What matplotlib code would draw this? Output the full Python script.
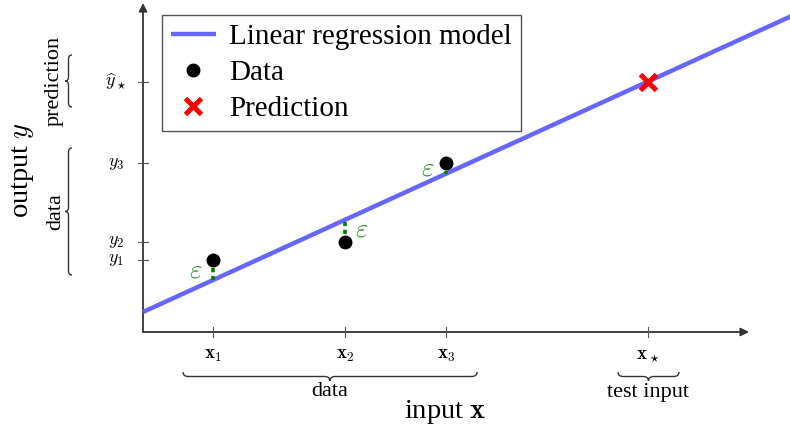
import matplotlib
matplotlib.use("Agg")
import matplotlib.pyplot as plt
import numpy as np
from matplotlib.path import Path
from matplotlib.patches import PathPatch, FancyArrowPatch

plt.rcParams['font.family'] = ['Liberation Serif', 'DejaVu Serif']
plt.rcParams['mathtext.fontset'] = 'cm'

# ---- data ----
x_data = [0.70, 2.02, 3.03]
y_data = [0.72, 0.90, 1.69]
x_star = 5.05
intercept = 0.20
slope = 0.4564
y_star = intercept + slope * x_star
x_tick_pos = [0.70, 2.02, 3.03, 5.05]
x_tick_labels = [r'$\mathbf{x}_1$', r'$\mathbf{x}_2$', r'$\mathbf{x}_3$', r'$\mathbf{x}_\star$']
y_tick_pos = [0.72, 0.90, 1.69, y_star]
y_tick_labels = [r'$y_1$', r'$y_2$', r'$y_3$', r'$\widehat{y}_\star$']

fig = plt.figure(figsize=(7.9, 4.33), dpi=100)
ax = fig.add_axes([0, 0, 1, 1])
ax.set_xlim(-1.43, 6.47)
ax.set_ylim(-1.01, 3.32)
ax.axis('off')

axc = '#333333'
# axes with arrows
ax.add_patch(FancyArrowPatch((0, 0), (6.06, 0), arrowstyle='-|>', mutation_scale=12,
                             color=axc, lw=1.3, shrinkA=0, shrinkB=0))
ax.add_patch(FancyArrowPatch((0, 0), (0, 3.29), arrowstyle='-|>', mutation_scale=12,
                             color=axc, lw=1.3, shrinkA=0, shrinkB=0))

# ticks
for xp, lab in zip(x_tick_pos, x_tick_labels):
    ax.plot([xp, xp], [-0.05, 0.05], color='#555555', lw=0.8)
    ax.text(xp, -0.23, lab, ha='center', va='center', fontsize=13.5)
for yp, lab in zip(y_tick_pos, y_tick_labels):
    ax.plot([-0.05, 0.05], [yp, yp], color='#555555', lw=0.8)
    ax.text(-0.27, yp, lab, ha='center', va='center', fontsize=13)

# regression line
xl = [0, 6.6]
ax.plot(xl, [intercept + slope * v for v in xl], color='#6666ff', lw=3.2,
        solid_capstyle='butt', label='Linear regression model', zorder=3)

# residuals
eps_offsets = [(-0.17, -0.01), (0.17, 0.0), (-0.18, -0.01)]
for xv, yv, (dx, dy) in zip(x_data, y_data, eps_offsets):
    yl = intercept + slope * xv
    ax.plot([xv, xv], [yv, yl], color='#008000', lw=2.6, ls=(0, (1.2, 1.0)), zorder=4)
    ax.text(xv + dx, (yv + yl) / 2 + dy, r'$\varepsilon$', color='#2e8b2e',
            fontsize=19, ha='center', va='center')

ax.plot(x_data, y_data, 'o', color='black', ms=9, label='Data', zorder=5)
ax.plot([x_star], [y_star], 'x', color='red', ms=11, mew=3.6, label='Prediction', zorder=6)


def brace(x0, y0, x1, y1, amp, lw=1.0):
    p0 = np.array([x0, y0], float)
    p1 = np.array([x1, y1], float)
    d = p1 - p0
    L = np.hypot(*d)
    u = d / L
    n = np.array([-u[1], u[0]]) * amp
    m = (p0 + p1) / 2
    h = n / 2
    k = abs(amp) * 0.6
    verts = [p0,
             p0 + h, p0 + h + u * k,
             m - u * k + h,
             m + h, m + n,
             m + h, m + u * k + h,
             p1 - u * k + h,
             p1 + h, p1]
    codes = [Path.MOVETO,
             Path.CURVE3, Path.CURVE3,
             Path.LINETO,
             Path.CURVE3, Path.CURVE3,
             Path.CURVE3, Path.CURVE3,
             Path.LINETO,
             Path.CURVE3, Path.CURVE3]
    ax.add_patch(PathPatch(Path(verts, codes), fill=False, color='#333333', lw=lw))


# bottom braces (pointing down)
brace(0.40, -0.40, 3.34, -0.40, -0.09)
brace(4.75, -0.40, 5.36, -0.40, -0.09)
ax.text(1.87, -0.60, 'data', ha='center', va='center', fontsize=16)
ax.text(5.05, -0.60, 'test input', ha='center', va='center', fontsize=16)
ax.text(3.02, -0.80, r'input $\mathbf{x}$', ha='center', va='center', fontsize=20.5)

# left braces (pointing left)
brace(-0.71, 1.84, -0.71, 0.57, -0.07)
brace(-0.71, 2.77, -0.71, 2.25, -0.07)
ax.text(-0.87, 1.20, 'data', ha='center', va='center', fontsize=16, rotation=90)
ax.text(-0.89, 2.51, 'prediction', ha='center', va='center', fontsize=16, rotation=90)
ax.text(-1.20, 1.62, r'output $y$', ha='center', va='center', fontsize=20.5, rotation=90)

leg = ax.legend(loc='upper left', bbox_to_anchor=(162 / 790, 1 - 15 / 433),
                bbox_transform=fig.transFigure, borderaxespad=0, fontsize=21,
                frameon=True, fancybox=False, edgecolor='#555555', framealpha=1,
                labelspacing=0.33, handlelength=1.55, handletextpad=0.45,
                borderpad=0.3, markerscale=1.0)
leg.get_frame().set_linewidth(1.0)

fig.savefig('out.png', dpi=100)
